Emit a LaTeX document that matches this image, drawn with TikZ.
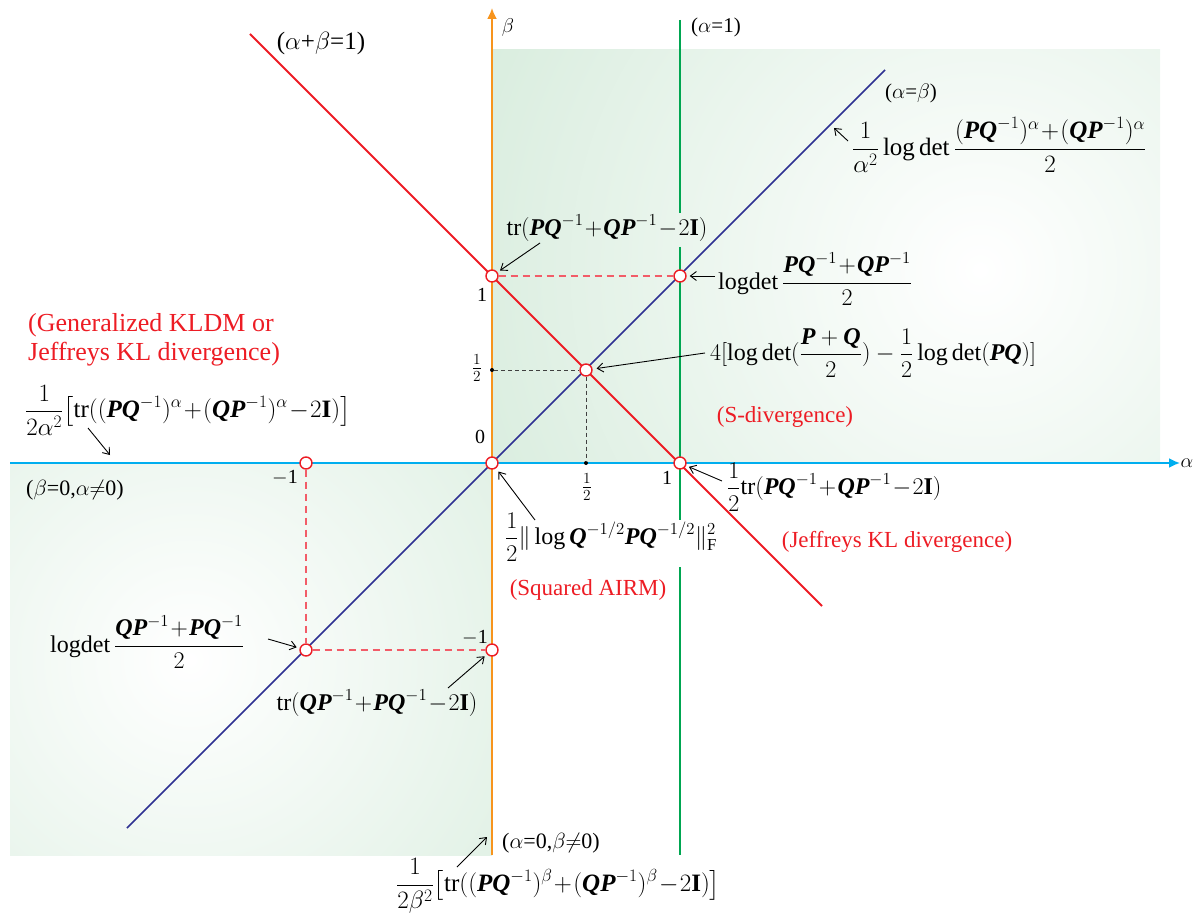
\RequirePackage{fix-cm}
\documentclass[tikz,border=0pt]{standalone}
\usepackage{amsmath}
\usepackage{fontspec}
\setmainfont{Liberation Serif}
\usetikzlibrary{arrows.meta}
\definecolor{G}{RGB}{198,228,206}
\definecolor{Rd}{RGB}{237,28,36}
\definecolor{LRd}{RGB}{242,92,104}
\definecolor{Or}{RGB}{247,148,29}
\definecolor{Cy}{RGB}{0,174,239}
\definecolor{Gn}{RGB}{0,166,81}
\definecolor{Nv}{RGB}{46,49,146}
\newcommand\Pb{\text{\bfseries\itshape P}}
\newcommand\Qb{\text{\bfseries\itshape Q}}
\newcommand\Ib{\text{\bfseries I}}
\newcommand\pl{\mkern1mu{+}\mkern1mu}
\newcommand\mi{\mkern1mu{-}\mkern1mu}
\tikzset{
  lab/.style={font=\fontsize{24}{28}\selectfont, inner sep=0pt},
  labb/.style={font=\fontsize{25}{29}\selectfont, inner sep=0pt},
  sml/.style={font=\fontsize{21}{24}\selectfont, inner sep=0pt},
  redl/.style={text=Rd, font=\fontsize{23}{27}\selectfont, inner sep=0pt},
  redbig/.style={text=Rd, font=\fontsize{26}{29}\selectfont, inner sep=0pt, align=left},
  tick/.style={font=\fontsize{20}{24}\selectfont, inner sep=0pt},
  half/.style={font=\fontsize{22}{26}\selectfont, inner sep=0pt},
  annot/.style={-{Straight Barb[length=6pt,width=9pt]}, line width=0.9pt, black},
  pt/.style={circle, draw=Rd, line width=1.4pt, fill=white, minimum size=12pt, inner sep=0pt},
  dotp/.style={circle, fill=black, minimum size=4pt, inner sep=0pt},
  rdash/.style={LRd, line width=1.3pt, dash pattern=on 7pt off 5pt},
  kdash/.style={black!75, line width=1pt, dash pattern=on 4pt off 3pt},
  mline/.style={line width=1.8pt}
}
\begin{document}
\begin{tikzpicture}[x=1pt,y=-1pt]
\useasboundingbox (0,0) rectangle (1194,917);
% shaded regions
\fill[G] (492,50) rectangle (1160,463);
\begin{scope}
  \clip (492,50) rectangle (1160,463);
  \shade[inner color=white, outer color=G] (980,270) circle[radius=820pt];
\end{scope}
\fill[G] (10,463) rectangle (492,855);
\begin{scope}
  \clip (10,463) rectangle (492,855);
  \shade[inner color=white, outer color=G] (190,660) circle[radius=720pt];
\end{scope}
% coordinates
\coordinate (g1) at (680,20);  \coordinate (g2) at (680,213);
\coordinate (g3) at (680,247); \coordinate (g4) at (680,520);
\coordinate (g5) at (680,567); \coordinate (g6) at (680,855);
\coordinate (r1) at (250,34);  \coordinate (r2) at (822,606);
\coordinate (b1) at (127,828); \coordinate (b2) at (885,70);
\coordinate (ab) at (492,855); \coordinate (at) at (492,8);
\coordinate (al) at (10,463);  \coordinate (ar) at (1180,463);
% lines
\draw[Gn, mline] (g1) -- (g2);
\draw[Gn, mline] (g3) -- (g4);
\draw[Gn, mline] (g5) -- (g6);
\draw[Rd, mline] (r1) -- (r2);
\draw[Nv, line width=1.5pt] (b1) -- (b2);
\draw[Or, mline, -{Latex[length=11pt,width=10pt]}] (ab) -- (at);
\draw[Cy, mline, -{Latex[length=11pt,width=10pt]}] (al) -- (ar);
% points
\node[pt] (p01) at (492,276) {};
\node[pt] (p11) at (680,276) {};
\node[pt] (phh) at (586,370) {};
\node[pt] (p00) at (492,463) {};
\node[pt] (p10) at (680,463) {};
\node[pt] (pm10) at (306,463) {};
\node[pt] (pmm) at (306,650) {};
\node[pt] (p0m) at (492,650) {};
\node[dotp] (dy) at (492,370) {};
\node[dotp] (dx) at (586,463) {};
% dashed connectors
\draw[rdash] (p01) -- (p11);
\draw[rdash] (pm10) -- (pmm);
\draw[rdash] (pmm) -- (p0m);
\draw[kdash] (dy) -- (phh);
\draw[kdash] (phh) -- (dx);
% axis labels
\node[tick] (lbeta) at (508,28) {$\beta$};
\node[tick] (lalpha) at (1187,463) {$\alpha$};
\node[font=\fontsize{25}{28}\selectfont, inner sep=0pt] (lab1) at (321,43) {($\alpha$+$\beta$=1)};
\node[sml] (lab2) at (716,27) {($\alpha$=1)};
\node[sml] (lab3) at (911,93) {($\alpha$=$\beta$)};
\node[sml, font=\fontsize{22}{26}\selectfont] (lab4) at (75,490) {($\beta$=0,$\alpha$$\neq$0)};
\node[sml, font=\fontsize{22}{26}\selectfont] (lab5) at (551,843) {($\alpha$=0,$\beta$$\neq$0)};
\node[tick] (t1y) at (482,295) {1};
\node[tick] (t0) at (480,437) {0};
\node[tick] (t1x) at (667,478) {1};
\node[tick] (tm1x) at (285,478) {$-$1};
\node[tick] (tm1y) at (475,638) {$-$1};
\node[half] (thy) at (477,368) {$\frac{1}{2}$};
\node[half] (thx) at (587,487) {$\frac{1}{2}$};
% red labels
\node[redbig, anchor=west] (rgen) at (28,340) {(Generalized KLDM or\\Jeffreys KL divergence)};
\node[redl] (rs) at (785,417) {(S-divergence)};
\node[redl] (rj) at (897,542) {(Jeffreys KL divergence)};
\node[redl] (ra) at (588,590) {(Squared AIRM)};
% formulas
\node[labb, anchor=west] (ftop) at (852,145)
  {$\displaystyle\frac{1}{\alpha^2}\log\det\frac{(\Pb\Qb^{-1})^{\alpha}\pl(\Qb\Pb^{-1})^{\alpha}}{2}$};
\node[lab] (ftra) at (607,228) {$\mathrm{tr}(\Pb\Qb^{-1}\pl\Qb\Pb^{-1}\mi2\Ib)$};
\node[lab, anchor=west] (fld1) at (718,279)
  {$\displaystyle\mathrm{logdet}\,\frac{\Pb\Qb^{-1}\pl\Qb\Pb^{-1}}{2}$};
\node[lab, anchor=west] (fs) at (710,353)
  {$\displaystyle4[\log\det(\frac{\Pb+\Qb}{2})-\frac{1}{2}\log\det(\Pb\Qb)]$};
\node[labb, anchor=west] (fleft) at (25,410)
  {$\displaystyle\frac{1}{2\alpha^2}\bigl[\mathrm{tr}((\Pb\Qb^{-1})^{\alpha}\pl(\Qb\Pb^{-1})^{\alpha}\mi2\Ib)\bigr]$};
\node[lab, anchor=west] (fhalf) at (727,487)
  {$\displaystyle\frac{1}{2}\mathrm{tr}(\Pb\Qb^{-1}\pl\Qb\Pb^{-1}\mi2\Ib)$};
\node[lab, anchor=west] (fairm) at (505,537)
  {$\displaystyle\frac{1}{2}\|\log\Qb^{-1/2}\Pb\Qb^{-1/2}\|_{\mathrm{F}}^{2}$};
\node[lab, anchor=west] (fld2) at (50,642)
  {$\displaystyle\mathrm{logdet}\,\frac{\Qb\Pb^{-1}\pl\Pb\Qb^{-1}}{2}$};
\node[lab] (ftrb) at (377,703) {$\mathrm{tr}(\Qb\Pb^{-1}\pl\Pb\Qb^{-1}\mi2\Ib)$};
\node[labb, anchor=west] (fbot) at (396,886)
  {$\displaystyle\frac{1}{2\beta^2}\bigl[\mathrm{tr}((\Pb\Qb^{-1})^{\beta}\pl(\Qb\Pb^{-1})^{\beta}\mi2\Ib)\bigr]$};
% annotation arrows
\coordinate (a1s) at (848,141); \coordinate (a1e) at (834,128);
\draw[annot] (a1s) -- (a1e);
\coordinate (a2s) at (540,243);
\draw[annot, shorten >=3pt] (a2s) -- (p01);
\coordinate (a3s) at (715,276);
\draw[annot, shorten >=3pt] (a3s) -- (p11);
\coordinate (a4s) at (705,353);
\draw[annot, shorten >=4pt] (a4s) -- (phh);
\coordinate (a5s) at (88,428); \coordinate (a5e) at (110,455);
\draw[annot] (a5s) -- (a5e);
\coordinate (a6s) at (722,481);
\draw[annot, shorten >=3pt] (a6s) -- (p10);
\coordinate (a7s) at (535,520);
\draw[annot, shorten >=4pt] (a7s) -- (p00);
\coordinate (a8s) at (268,639);
\draw[annot, shorten >=3pt] (a8s) -- (pmm);
\coordinate (a9s) at (448,688);
\draw[annot, shorten >=3pt] (a9s) -- (p0m);
\coordinate (a10s) at (457,867); \coordinate (a10e) at (487,837);
\draw[annot] (a10s) -- (a10e);
\end{tikzpicture}
\end{document}
